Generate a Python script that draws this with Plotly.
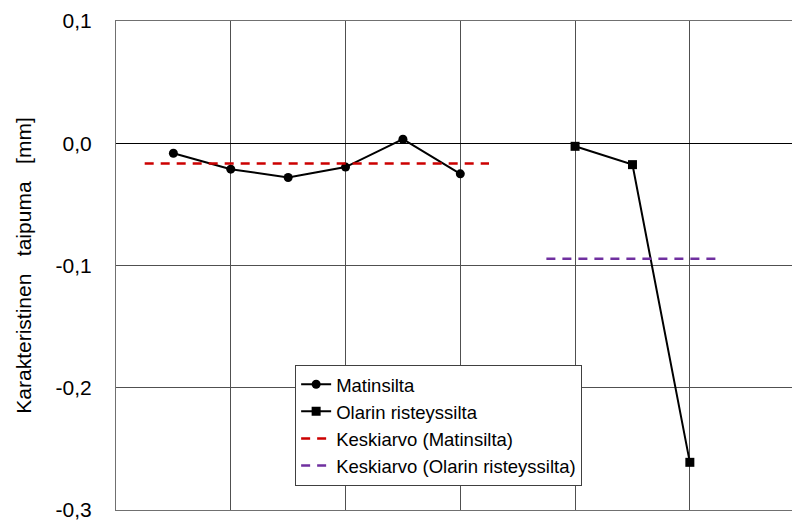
import plotly.graph_objects as go

# Data
mat_x = [1, 2, 3, 4, 5, 6]
mat_y = [-0.0082, -0.0212, -0.0280, -0.0195, 0.0033, -0.0250]
ola_x = [8, 9, 10]
ola_y = [-0.0025, -0.0175, -0.2610]
mean_mat_x = [0.5, 6.5]
mean_mat_y = [-0.0165, -0.0165]
mean_ola_x = [7.5, 10.5]
mean_ola_y = [-0.0945, -0.0945]
y_ticks = [-0.3, -0.2, -0.1, 0.0, 0.1]
y_ticklabels = ["-0,3", "-0,2", "-0,1", "0,0", "0,1"]

FONT = "Liberation Sans, Arial, sans-serif"

fig = go.Figure()
fig.add_trace(go.Scatter(x=mat_x, y=mat_y, mode="lines+markers", name="Matinsilta",
                         line=dict(color="black", width=2),
                         marker=dict(symbol="circle", size=9, color="black")))
fig.add_trace(go.Scatter(x=ola_x, y=ola_y, mode="lines+markers", name="Olarin risteyssilta",
                         line=dict(color="black", width=2),
                         marker=dict(symbol="square", size=9, color="black")))
fig.add_trace(go.Scatter(x=mean_mat_x, y=mean_mat_y, mode="lines", name="Keskiarvo (Matinsilta)",
                         line=dict(color="#CC0000", width=2.5, dash="9px,7px")))
fig.add_trace(go.Scatter(x=mean_ola_x, y=mean_ola_y, mode="lines", name="Keskiarvo (Olarin risteyssilta)",
                         line=dict(color="#7030A0", width=2.5, dash="9px,7px")))

fig.update_layout(
    width=792, height=520,
    margin=dict(l=116, r=0, t=21, b=10, autoexpand=False),
    paper_bgcolor="white", plot_bgcolor="white",
    font=dict(family=FONT, size=20, color="black"),
    showlegend=True,
    legend=dict(x=0.265, y=0.297, xanchor="left", yanchor="top",
                bgcolor="white", bordercolor="#404040", borderwidth=1,
                font=dict(family=FONT, size=18.5, color="black"),
                tracegroupgap=0, itemwidth=30),
)
fig.update_xaxes(range=[0, 11.78], dtick=2, tick0=0, showticklabels=False,
                 showgrid=True, gridcolor="#505050", gridwidth=1,
                 showline=True, mirror=True, linecolor="#707070", linewidth=1,
                 zeroline=False, ticks="")
fig.update_yaxes(range=[-0.3, 0.1], tickvals=y_ticks, ticktext=y_ticklabels,
                 showgrid=True, gridcolor="#505050", gridwidth=1,
                 zeroline=True, zerolinecolor="black", zerolinewidth=1,
                 showline=True, linecolor="#707070", linewidth=1,
                 ticks="", ticklabelstandoff=19, ticklabeloverflow="allow",
                 tickfont=dict(family=FONT, size=21, color="black"),
                 title=dict(text="Karakteristinen   taipuma   [mm]", standoff=18,
                            font=dict(family=FONT, size=21, color="black")))

fig.write_html("out.html", config={"displayModeBar": False},
               post_script="document.body.style.margin='0';")
